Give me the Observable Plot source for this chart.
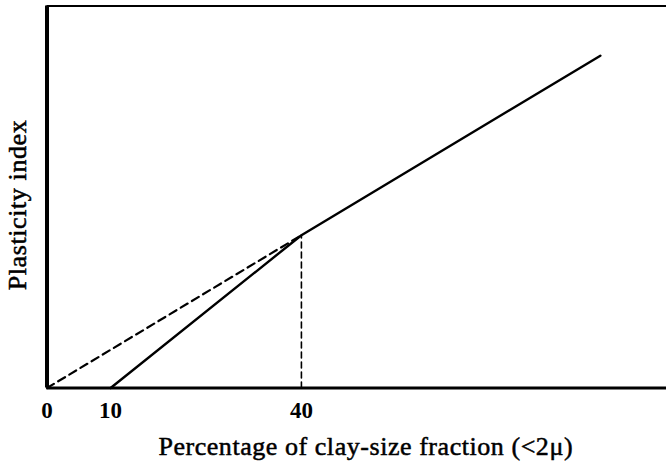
<!DOCTYPE html>
<html>
<head>
<meta charset="utf-8">
<script src="https://cdn.jsdelivr.net/npm/d3@7"></script>
<script src="https://cdn.jsdelivr.net/npm/@observablehq/plot@0.6"></script>
<style>
  html, body { margin: 0; padding: 0; background: #fff; }
</style>
</head>
<body>
<div id="chart"></div>
<script>
// Data (clay-size fraction %, plasticity index, arbitrary units)
const dashedX = [0, 40];
const dashedY = [0, 40];
const solidX = [10, 40, 87];
const solidY = [0, 40, 87];
const dropX = [40, 40];
const dropY = [0, 40];
const xTicks = [0, 10, 40];
const xTitle = "Percentage of clay-size fraction (<2\u03bc)";
const yTitle = "Plasticity index";

const dashed = dashedX.map((x, i) => ({x, y: dashedY[i]}));
const solid = solidX.map((x, i) => ({x, y: solidY[i]}));
const drop = dropX.map((x, i) => ({x, y: dropY[i]}));

const font = "Liberation Serif, Times New Roman, serif";

const chart = Plot.plot({
  width: 666,
  height: 467,
  marginLeft: 46.5,
  marginRight: 0,
  marginTop: 5.5,
  marginBottom: 79.5,
  style: {fontFamily: font, background: "#fff", color: "#000"},
  x: {domain: [0, 97.4], axis: null},
  y: {domain: [0, 100], axis: null},
  marks: [
    Plot.line(drop, {x: "x", y: "y", stroke: "#000", strokeWidth: 1.6, strokeDasharray: "6,4"}),
    Plot.line(dashed, {x: "x", y: "y", stroke: "#000", strokeWidth: 2.2, strokeDasharray: "8,5"}),
    Plot.line(solid, {x: "x", y: "y", stroke: "#000", strokeWidth: 2.4}),
    Plot.ruleY([100], {stroke: "#000", strokeWidth: 2}),
    Plot.ruleY([0], {stroke: "#000", strokeWidth: 3}),
    Plot.ruleX([0], {stroke: "#000", strokeWidth: 4, y1: 0, y2: 100}),
    Plot.axisX({ticks: xTicks, tickSize: 0, tickPadding: 14, label: null, fontSize: 23, fontWeight: "bold", fontFamily: font, tickFormat: d => String(d)}),
    Plot.text([xTitle], {frameAnchor: "bottom", textAnchor: "middle", dx: 9, dy: 58.5, lineAnchor: "middle", fontSize: 26, fontFamily: font, text: d => d, fill: "#000", stroke: "#000", strokeWidth: 0.5}),
    Plot.text([yTitle], {frameAnchor: "left", textAnchor: "middle", rotate: -90, dx: -29, dy: 8, lineAnchor: "middle", fontSize: 26, fontFamily: font, text: d => d, fill: "#000", stroke: "#000", strokeWidth: 0.5})
  ]
});
d3.select(chart).selectAll("text").each(function() {
  const t = this.textContent;
  if (t === xTitle) this.setAttribute("letter-spacing", "0.55");
  if (t === yTitle) this.setAttribute("letter-spacing", "0.6");
});
document.getElementById("chart").appendChild(chart);
</script>
</body>
</html>
